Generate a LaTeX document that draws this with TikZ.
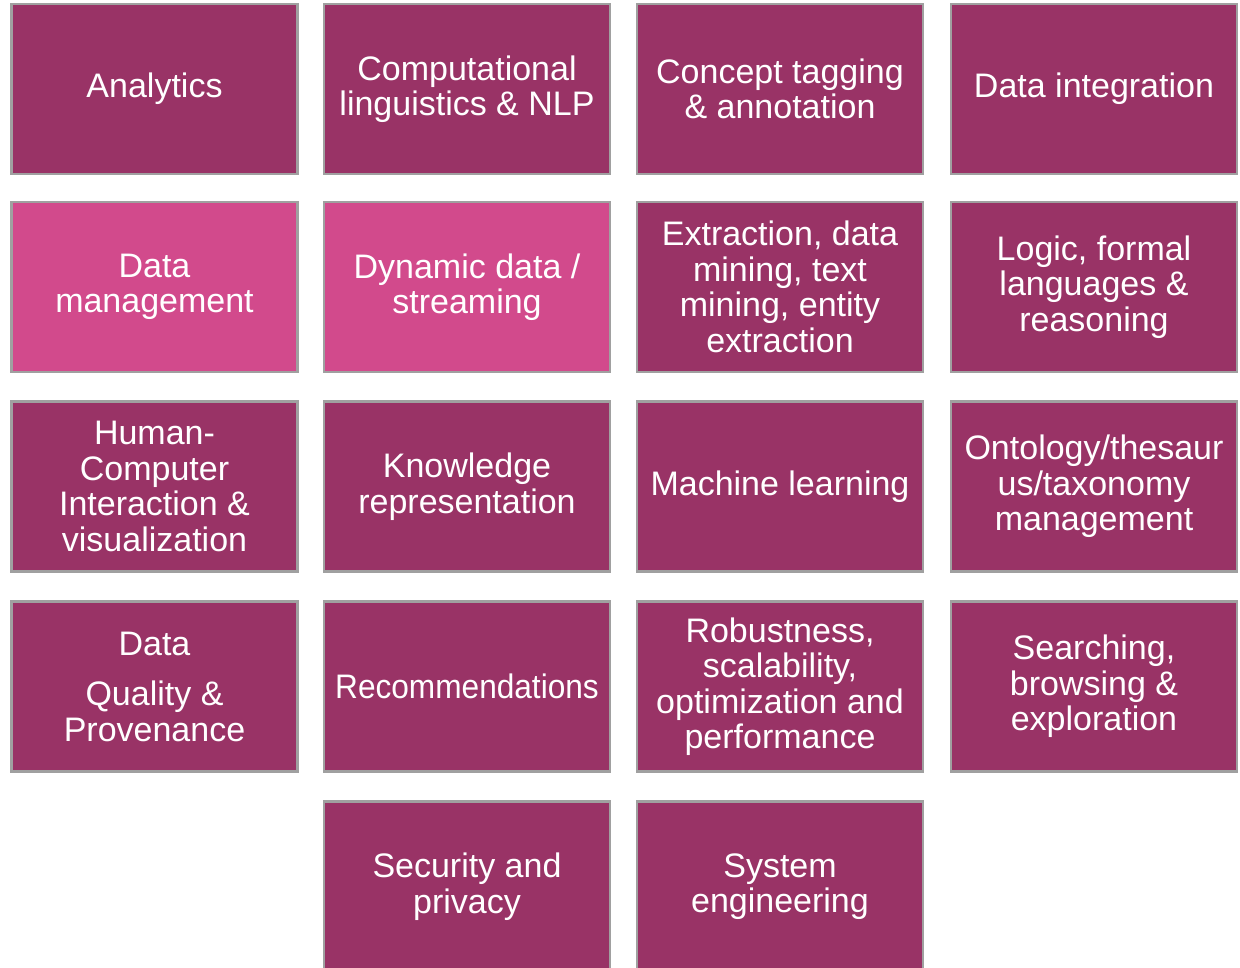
\documentclass[tikz,border=0pt]{standalone}
\usepackage{fontspec}
\setmainfont{Liberation Sans}
\definecolor{plum}{HTML}{993366}
\definecolor{rose}{HTML}{D24A8C}
\definecolor{rim}{HTML}{A0A0A0}
\tikzset{
  topic/.style={draw=rim, line width=2.5pt, fill=plum, text=white,
    minimum width=286pt, minimum height=170pt, inner sep=0pt,
    align=center, font=\fontsize{34}{35.5}\selectfont},
  hot/.style={topic, fill=rose}
}
\begin{document}
\begin{tikzpicture}[x=1pt, y=-1pt]
                    \useasboundingbox (0,0) rectangle (1240,968);
                    \clip (0,0) rectangle (1240,968);
                    \node[topic] (analytics) at (154.5,89) {Analytics};
                    \node[topic] (nlp) at (467,89) {Computational\\linguistics \& NLP};
                    \node[topic] (tagging) at (780,89) {Concept tagging\\\& annotation};
                    \node[topic] (integration) at (1094,89) {Data integration};
                    \node[hot] (datamgmt) at (154.5,287) {Data\\management};
                    \node[hot] (streaming) at (467,287) {Dynamic data /\\streaming};
                    \node[topic] (extraction) at (780,287) {Extraction, data\\mining, text\\mining, entity\\extraction};
                    \node[topic] (logic) at (1094,287) {Logic, formal\\languages \&\\reasoning};
                    \node[topic] (hci) at (154.5,486.5) {Human-\\Computer\\Interaction \&\\visualization};
                    \node[topic] (knowledge) at (467,486.5) {Knowledge\\representation};
                    \node[topic] (learning) at (780,486.5) {Machine learning};
                    \node[topic] (ontology) at (1094,486.5) {Ontology/thesaur\\us/taxonomy\\management};
                    \node[topic] (quality) at (154.5,686.5) {Data\\[15pt]Quality \&\\Provenance};
                    \node[topic] (recommend) at (467,686.5) {\scalebox{0.93}[1]{Recommendations}};
                    \node[topic] (robust) at (780,686.5) {Robustness,\\scalability,\\optimization and\\performance};
                    \node[topic] (search) at (1094,686.5) {Searching,\\browsing \&\\exploration};
                    \node[topic] (security) at (467,886.5) {Security and\\privacy};
                    \node[topic] (system) at (780,886.5) {System\\engineering};
                \end{tikzpicture}
\end{document}
